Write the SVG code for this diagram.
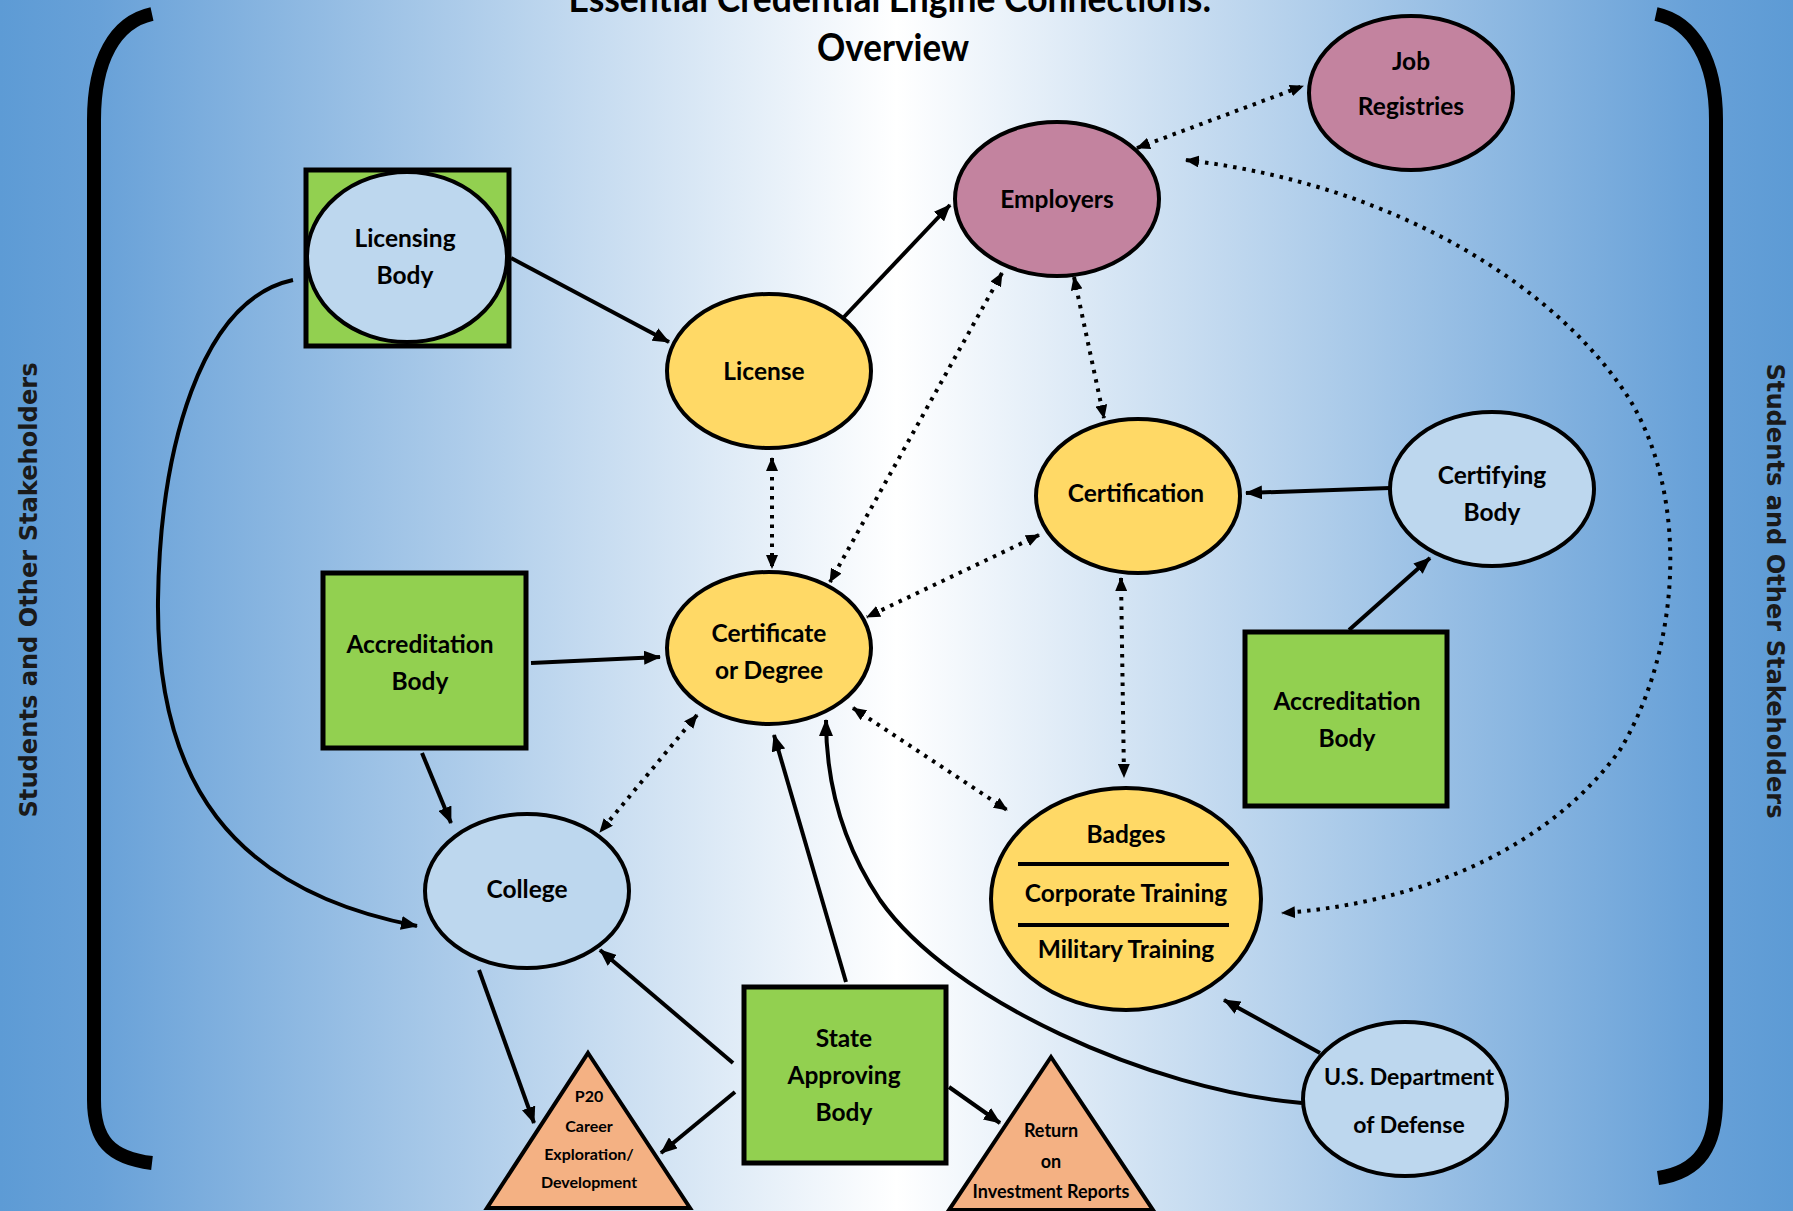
<svg xmlns="http://www.w3.org/2000/svg" width="1793" height="1211" viewBox="0 0 1793 1211">
<defs>
<linearGradient id="bg" x1="0" y1="0" x2="1" y2="0">
<stop offset="0" stop-color="#5d9bd5"/>
<stop offset="0.055" stop-color="#68a1d8"/>
<stop offset="0.5" stop-color="#ffffff"/>
<stop offset="0.945" stop-color="#68a1d8"/>
<stop offset="1" stop-color="#5d9bd5"/>
</linearGradient>
<marker id="ah" markerUnits="userSpaceOnUse" markerWidth="17" markerHeight="14" refX="16" refY="7" orient="auto-start-reverse" viewBox="0 0 17 14"><path d="M0,0 L17,7 L0,14 z" fill="#000"/></marker>
<marker id="ad" markerUnits="userSpaceOnUse" markerWidth="14" markerHeight="12" refX="13" refY="6" orient="auto-start-reverse" viewBox="0 0 14 12"><path d="M0,0 L14,6 L0,12 z" fill="#000"/></marker>
</defs>
<style>
.t{font-family:Lato,"Open Sans","Liberation Sans",sans-serif;font-weight:700;font-size:24.5px;text-anchor:middle;fill:#000}
.s18{font-size:18px}
.s16{font-size:16px}
.title{font-size:38px}
.side{font-family:"DejaVu Sans",Verdana,sans-serif;font-size:24px;fill:#1a1a1a}
.bl{fill:#bdd7ee;stroke:#000;stroke-width:4}
.ye{fill:#ffd966;stroke:#000;stroke-width:4}
.mv{fill:#c3839f;stroke:#000;stroke-width:4}
.box{fill:#92d050;stroke:#000;stroke-width:5}
.tri{fill:#f4b183;stroke:#000;stroke-width:4}
.sol{fill:none;stroke:#000;stroke-width:4;marker-end:url(#ah)}
.dot{fill:none;stroke:#000;stroke-width:4;stroke-dasharray:3.5 6;marker-start:url(#ad);marker-end:url(#ad)}
.brk{fill:none;stroke:#000;stroke-width:14}
</style>
<rect x="0" y="0" width="1793" height="1211" fill="url(#bg)"/>
<g id="brackets">
<path class="brk" d="M152,14 C115,22 94,60 94,120 L94,1100 C94,1140 110,1158 152,1163"/>
<path class="brk" d="M1656,14 C1693,22 1716,60 1716,120 L1716,1100 C1716,1145 1700,1172 1658,1178"/>
</g>
<g id="side-labels">
<text class="t side" transform="translate(37,590) rotate(-90)" textLength="455" lengthAdjust="spacingAndGlyphs">Students and Other Stakeholders</text>
<text class="t side" transform="translate(1767,591) rotate(90)" textLength="455" lengthAdjust="spacingAndGlyphs">Students and Other Stakeholders</text>
</g>
<g id="title">
<text class="t title" x="890" y="12" textLength="643" lengthAdjust="spacingAndGlyphs">Essential Credential Engine Connections:</text>
<text class="t title" x="893" y="61" textLength="152" lengthAdjust="spacingAndGlyphs">Overview</text>
</g>
<g id="connectors">
<path class="sol" d="M511,258 L669,342"/>
<path class="sol" d="M844,317 L950,205"/>
<path class="sol" d="M293,280 C200,300 160,450 158,600 C156,780 230,890 417,926"/>
<path class="sol" d="M531,663 L660,657"/>
<path class="sol" d="M422,753 L451,823"/>
<path class="sol" d="M1390,488 L1246,493"/>
<path class="sol" d="M1349,630 L1430,558"/>
<path class="sol" d="M846,982 L774,735"/>
<path class="sol" d="M1302,1103 C1150,1090 950,1000 880,900 C840,840 826,780 826,720"/>
<path class="sol" d="M1320,1053 L1224,1000"/>
<path class="sol" d="M733,1063 L600,950"/>
<path class="sol" d="M735,1092 L661,1153"/>
<path class="sol" d="M479,970 L534,1123"/>
<path class="sol" d="M949,1087 L1000,1123"/>
<path class="dot" d="M1137,148 L1303,86"/>
<path class="dot" d="M1002,273 L830,582"/>
<path class="dot" d="M1074,277 L1104,418"/>
<path class="dot" d="M772,458 L772,568"/>
<path class="dot" d="M1039,535 L867,617"/>
<path class="dot" d="M1121,578 L1124,777"/>
<path class="dot" d="M853,708 L1007,810"/>
<path class="dot" d="M697,715 L600,832"/>
<path class="dot" d="M1186,160 C1400,185 1560,290 1630,400 C1690,500 1680,650 1620,750 C1540,860 1400,905 1282,913"/>
</g>
<g id="job-registries">
<ellipse class="mv" cx="1411" cy="93" rx="102" ry="77"/>
<text class="t" x="1411" y="70">Job</text>
<text class="t" x="1411" y="115">Registries</text>
</g>
<g id="employers">
<ellipse class="mv" cx="1057" cy="199" rx="102" ry="77"/>
<text class="t" x="1057" y="208">Employers</text>
</g>
<g id="licensing-body">
<rect class="box" x="306" y="170" width="203" height="176"/>
<ellipse class="bl" cx="407" cy="257" rx="100" ry="85"/>
<text class="t" x="405" y="247">Licensing</text>
<text class="t" x="405" y="284">Body</text>
</g>
<g id="license">
<ellipse class="ye" cx="769" cy="371" rx="102" ry="77"/>
<text class="t" x="764" y="380">License</text>
</g>
<g id="certification">
<ellipse class="ye" cx="1138" cy="496" rx="102" ry="77"/>
<text class="t" x="1136" y="502">Certification</text>
</g>
<g id="certifying-body">
<ellipse class="bl" cx="1492" cy="489" rx="102" ry="77"/>
<text class="t" x="1492" y="484">Certifying</text>
<text class="t" x="1492" y="521">Body</text>
</g>
<g id="accreditation-body-right">
<rect class="box" x="1245" y="632" width="202" height="174"/>
<text class="t" x="1347" y="710">Accreditation</text>
<text class="t" x="1347" y="747">Body</text>
</g>
<g id="accreditation-body-left">
<rect class="box" x="323" y="573" width="203" height="175"/>
<text class="t" x="420" y="653">Accreditation</text>
<text class="t" x="420" y="690">Body</text>
</g>
<g id="certificate-or-degree">
<ellipse class="ye" cx="769" cy="648" rx="102" ry="76"/>
<text class="t" x="769" y="642">Certificate</text>
<text class="t" x="769" y="679">or Degree</text>
</g>
<g id="college">
<ellipse class="bl" cx="527" cy="891" rx="102" ry="77"/>
<text class="t" x="527" y="898">College</text>
</g>
<g id="badges-training">
<ellipse class="ye" cx="1126" cy="899" rx="135" ry="111"/>
<line x1="1018" y1="864" x2="1229" y2="864" stroke="#000" stroke-width="4"/>
<line x1="1018" y1="925" x2="1229" y2="925" stroke="#000" stroke-width="4"/>
<text class="t" x="1126" y="843">Badges</text>
<text class="t" x="1126" y="902">Corporate Training</text>
<text class="t" x="1126" y="958">Military Training</text>
</g>
<g id="us-department-of-defense">
<ellipse class="bl" cx="1405" cy="1099" rx="102" ry="77"/>
<text class="t" x="1409" y="1085" style="font-size:23px">U.S. Department</text>
<text class="t" x="1409" y="1133" style="font-size:23px">of Defense</text>
</g>
<g id="state-approving-body">
<rect class="box" x="744" y="987" width="202" height="176"/>
<text class="t" x="844" y="1047">State</text>
<text class="t" x="844" y="1084">Approving</text>
<text class="t" x="844" y="1121">Body</text>
</g>
<g id="p20-career">
<polygon class="tri" points="588,1053 690,1208 487,1208"/>
<text class="t s16" x="589" y="1102">P20</text>
<text class="t s16" x="589" y="1132">Career</text>
<text class="t s16" x="589" y="1160">Exploration/</text>
<text class="t s16" x="589" y="1188">Development</text>
</g>
<g id="roi-reports">
<polygon class="tri" points="1051,1057 1153,1210 949,1210"/>
<text class="t s18" x="1051" y="1137">Return</text>
<text class="t s18" x="1051" y="1168">on</text>
<text class="t s18" x="1051" y="1198">Investment Reports</text>
</g>
</svg>
